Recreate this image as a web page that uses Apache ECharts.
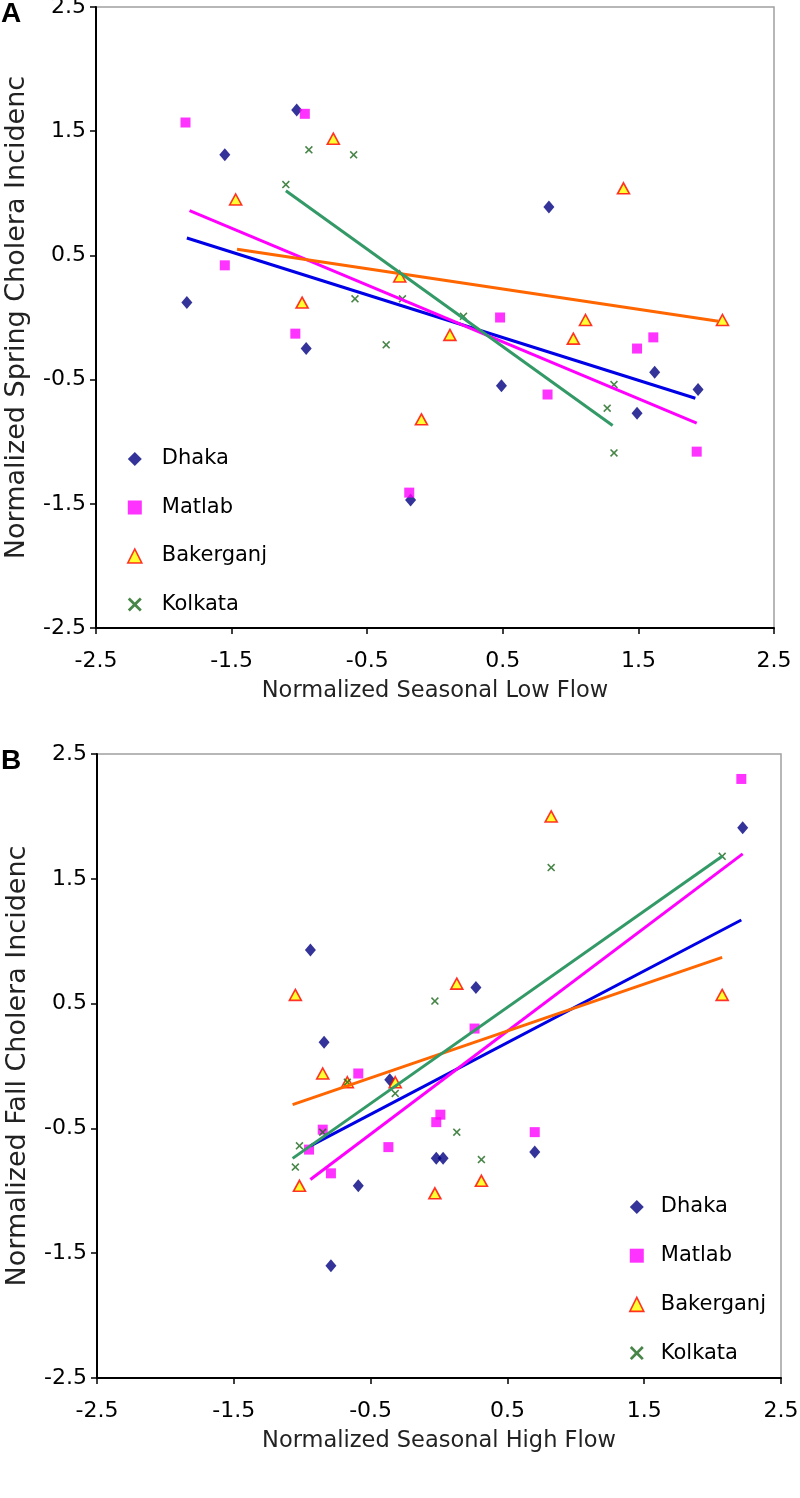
<!DOCTYPE html>
<html>
<head>
<meta charset="utf-8">
<script src="https://cdn.jsdelivr.net/npm/echarts@6/dist/echarts.min.js"></script>
<style>
html,body{margin:0;padding:0;background:#fff;}
#chart{width:800px;height:1498px;}
</style>
</head>
<body>
<div id="chart"></div>
<script>
// ---- data ----
const tickLabels = ['-2.5', '-1.5', '-0.5', '0.5', '1.5', '2.5'];
const seriesNames = ['Dhaka', 'Matlab', 'Bakerganj', 'Kolkata'];

// Panel A: Normalized Seasonal Low Flow vs Spring Cholera Incidence
const dhakaA = [[-1.83,0.12],[-1.55,1.31],[-1.02,1.67],[-0.95,-0.25],[-0.18,-1.47],[0.84,0.89],[0.49,-0.55],[1.62,-0.44],[1.94,-0.58],[1.49,-0.77]];
const matlabA = [[-1.84,1.57],[-0.96,1.64],[-1.55,0.42],[-1.03,-0.13],[-0.19,-1.41],[0.48,0.00],[0.83,-0.62],[1.49,-0.25],[1.61,-0.16],[1.93,-1.08]];
const bakerganjA = [[-1.47,0.95],[-0.75,1.44],[-0.98,0.12],[-0.26,0.33],[-0.10,-0.82],[0.11,-0.14],[1.11,-0.02],[1.02,-0.17],[1.39,1.04],[2.12,-0.02]];
const kolkataA = [[-1.10,1.07],[-0.93,1.35],[-0.60,1.31],[-0.59,0.15],[-0.36,-0.22],[-0.24,0.15],[0.21,0.01],[1.32,-0.54],[1.27,-0.73],[1.32,-1.09]];
const trendDhakaA = [[-1.83,0.64],[1.92,-0.65]];
const trendMatlabA = [[-1.81,0.86],[1.93,-0.85]];
const trendBakerganjA = [[-1.46,0.55],[2.09,-0.03]];
const trendKolkataA = [[-1.10,1.02],[1.31,-0.87]];

// Panel B: Normalized Seasonal High Flow vs Fall Cholera Incidence
const dhakaB = [[-0.94,0.93],[0.27,0.63],[-0.84,0.19],[2.22,1.91],[-0.36,-0.11],[-0.02,-0.74],[0.03,-0.74],[0.70,-0.69],[-0.59,-0.96],[-0.79,-1.60]];
const matlabB = [[2.21,2.30],[0.26,0.30],[-0.59,-0.06],[-0.85,-0.51],[-0.95,-0.67],[-0.79,-0.86],[-0.37,-0.65],[-0.02,-0.45],[0.01,-0.39],[0.70,-0.53]];
const bakerganjB = [[-1.05,0.57],[0.13,0.66],[0.82,2.00],[2.07,0.57],[-0.85,-0.06],[-0.67,-0.13],[-0.32,-0.13],[-1.02,-0.96],[-0.03,-1.02],[0.31,-0.92]];
const kolkataB = [[2.07,1.68],[0.82,1.59],[-0.03,0.52],[-0.67,-0.13],[-0.32,-0.22],[-0.85,-0.53],[-1.02,-0.64],[-1.05,-0.81],[0.13,-0.53],[0.31,-0.75]];
const trendDhakaB = [[-0.94,-0.64],[2.21,1.17]];
const trendMatlabB = [[-0.94,-0.91],[2.22,1.70]];
const trendBakerganjB = [[-1.07,-0.31],[2.07,0.87]];
const trendKolkataB = [[-1.07,-0.74],[2.07,1.68]];

// ---- styles ----
const FONT = 'DejaVu Sans';
const xPath = 'path://M0,1.4L1.4,0L5,3.6L8.6,0L10,1.4L6.4,5L10,8.6L8.6,10L5,6.4L1.4,10L0,8.6L3.6,5Z';
const markerStyle = {
  Dhaka: {symbol: 'diamond', symbolSize: [11, 13], itemStyle: {color: '#000080'}},
  Matlab: {symbol: 'rect', symbolSize: 10, itemStyle: {color: '#FF00FF'}},
  Bakerganj: {symbol: 'triangle', symbolSize: [12, 11], itemStyle: {color: '#FFFF00', borderColor: '#FF0000', borderWidth: 1.6}},
  Kolkata: {symbol: xPath, symbolSize: 8, itemStyle: {color: '#1A661A'}}
};
const trendColor = {Dhaka: '#0000E6', Matlab: '#FF00FF', Bakerganj: '#FF6600', Kolkata: '#339966'};

function makeAxes(gridIndex, xName, yName) {
  const common = {
    type: 'value', gridIndex: gridIndex, min: -2.5, max: 2.5, interval: 1,
    splitLine: {show: false},
    axisLine: {show: true, onZero: false, lineStyle: {color: '#000', width: 2}},
    axisTick: {show: true, inside: false, length: 6, lineStyle: {color: '#000', width: 1.5}},
    axisLabel: {color: '#000', fontFamily: FONT, fontSize: 22,
      formatter: function (v) { return tickLabels[Math.round(v + 2.5)]; }},
    nameLocation: 'middle'
  };
  const x = Object.assign({}, common, {name: xName, nameGap: 52,
    nameTextStyle: {color: '#222', fontFamily: FONT, fontSize: 22.5},
    axisLabel: Object.assign({}, common.axisLabel, {margin: 22})});
  const y = Object.assign({}, common, {name: yName, nameGap: 66, nameRotate: 90,
    nameTextStyle: {color: '#222', fontFamily: FONT, fontSize: 27},
    axisLabel: Object.assign({}, common.axisLabel, {margin: 10})});
  return [x, y];
}

const [xA, yA] = makeAxes(0, 'Normalized Seasonal Low Flow', 'Normalized Spring Cholera Incidenc');
const [xB, yB] = makeAxes(1, 'Normalized Seasonal High Flow', 'Normalized Fall Cholera Incidenc');

const panels = [
  {idx: 0, pts: {Dhaka: dhakaA, Matlab: matlabA, Bakerganj: bakerganjA, Kolkata: kolkataA},
   trends: {Dhaka: trendDhakaA, Matlab: trendMatlabA, Bakerganj: trendBakerganjA, Kolkata: trendKolkataA}},
  {idx: 1, pts: {Dhaka: dhakaB, Matlab: matlabB, Bakerganj: bakerganjB, Kolkata: kolkataB},
   trends: {Dhaka: trendDhakaB, Matlab: trendMatlabB, Bakerganj: trendBakerganjB, Kolkata: trendKolkataB}}
];

const series = [];
panels.forEach(function (p) {
  seriesNames.forEach(function (n) {
    const m = markerStyle[n];
    series.push({
      type: 'scatter', name: n, xAxisIndex: p.idx, yAxisIndex: p.idx,
      data: p.pts[n], symbol: m.symbol, symbolSize: m.symbolSize, symbolKeepAspect: true,
      itemStyle: m.itemStyle, z: 2, silent: true, animation: false
    });
  });
  seriesNames.forEach(function (n) {
    series.push({
      type: 'line', name: n + ' trend ' + p.idx, xAxisIndex: p.idx, yAxisIndex: p.idx,
      data: p.trends[n], symbol: 'none', showSymbol: false,
      lineStyle: {color: trendColor[n], width: 3}, z: 3, silent: true, animation: false
    });
  });
});

function legendData() {
  return seriesNames.map(function (n) {
    const m = markerStyle[n];
    return {name: n, icon: m.symbol, itemStyle: Object.assign({}, m.itemStyle)};
  });
}

const option = {
  backgroundColor: '#fff',
  animation: false,
  grid: [
    {left: 96, top: 7, width: 678, height: 621, containLabel: false, outerBoundsMode: 'none',
     show: true, borderColor: '#A0A0A0', borderWidth: 1.5, backgroundColor: '#fff'},
    {left: 97, top: 754, width: 684, height: 624, containLabel: false, outerBoundsMode: 'none',
     show: true, borderColor: '#A0A0A0', borderWidth: 1.5, backgroundColor: '#fff'}
  ],
  xAxis: [xA, xB],
  yAxis: [yA, yB],
  legend: [
    {data: legendData(), orient: 'vertical', left: 127, top: 446, padding: 0,
     itemWidth: 14, itemHeight: 14, itemGap: 22.5, selectedMode: false,
     textStyle: {color: '#000', fontFamily: FONT, fontSize: 21, lineHeight: 26, padding: [0, 0, 0, 15]}},
    {data: legendData(), orient: 'vertical', left: 629, top: 1194, padding: 0,
     itemWidth: 14, itemHeight: 14, itemGap: 22.7, selectedMode: false,
     textStyle: {color: '#000', fontFamily: FONT, fontSize: 21, lineHeight: 26, padding: [0, 0, 0, 12]}}
  ],
  graphic: [
    {type: 'text', left: 1, top: 0, style: {text: 'A', font: 'bold 28px "Liberation Sans"', fill: '#000'}},
    {type: 'text', left: 1, top: 747, style: {text: 'B', font: 'bold 28px "Liberation Sans"', fill: '#000'}}
  ],
  series: series
};

const chart = echarts.init(document.getElementById('chart'), null, {renderer: 'canvas'});
chart.setOption(option);
</script>
</body>
</html>
